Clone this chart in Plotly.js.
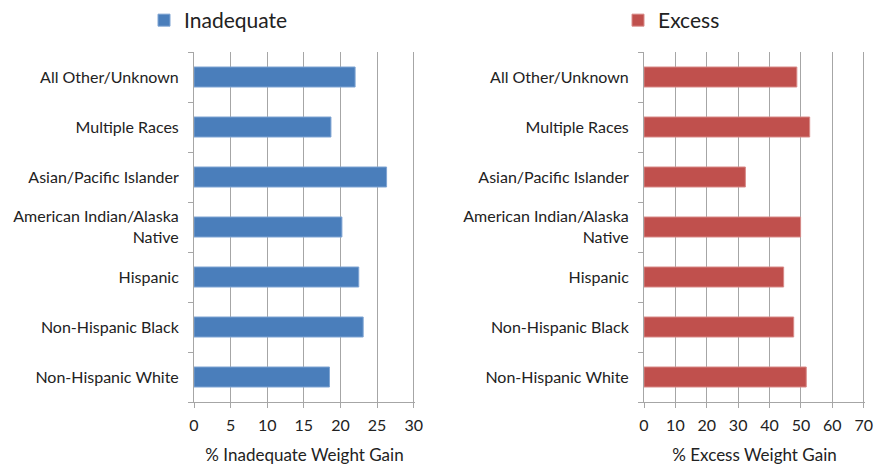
<!DOCTYPE html>
<html>
<head>
<meta charset="utf-8">
<script src="https://cdn.plot.ly/plotly-3.0.1.min.js"></script>
<style>html,body{margin:0;padding:0;background:#fff;}#chart{width:875px;height:465px;}</style>
</head>
<body>
<div id="chart"></div>
<script>
const categories = ["Non-Hispanic White", "Non-Hispanic Black", "Hispanic", "American Indian/Alaska<br>Native", "Asian/Pacific Islander", "Multiple Races", "All Other/Unknown"];
const inadequate = [18.5, 23.1, 22.5, 20.2, 26.3, 18.7, 22.0];
const excess = [51.7, 47.7, 44.5, 49.9, 32.3, 52.8, 48.7];
const inadequateTicks = [0, 5, 10, 15, 20, 25, 30];
const excessTicks = [0, 10, 20, 30, 40, 50, 60, 70];

const FONT = "Lato, 'Open Sans', sans-serif";
const gridCol = "#a6a6a6";
const W = 875, H = 465;

const traces = [
  {type: "bar", orientation: "h", y: categories, x: inadequate, name: "Inadequate",
   marker: {color: "#4a7ebb", line: {color: "#7fa4d3", width: 1}}, xaxis: "x", yaxis: "y", legend: "legend",
   hoverinfo: "x+y"},
  {type: "bar", orientation: "h", y: categories, x: excess, name: "Excess",
   marker: {color: "#c0504d", line: {color: "#d88a88", width: 1}}, xaxis: "x2", yaxis: "y2", legend: "legend2",
   hoverinfo: "x+y"}
];

function xax(domain, ticks, title, anchor) {
  const mx = ticks[ticks.length - 1];
  return {
    domain: domain, range: [0, mx * 1.006], tickmode: "array", tickvals: ticks,
    showgrid: true, gridcolor: gridCol, gridwidth: 1, zeroline: false,
    showline: true, linecolor: gridCol, linewidth: 1, ticks: "outside", ticklen: 5, tickcolor: gridCol,
    ticklabelstandoff: 4,
    tickfont: {family: FONT, size: 16, color: "#222"}, anchor: anchor, fixedrange: true,
    title: {text: title, font: {family: FONT, size: 17, color: "#222"}, standoff: 19}
  };
}
function yax(anchor) {
  return {
    type: "category", domain: [1 - 402 / H, 1 - 52 / H], anchor: anchor,
    showline: true, linecolor: gridCol, linewidth: 1, ticks: "outside", ticklen: 5, tickcolor: gridCol,
    tickson: "boundaries", showgrid: false, zeroline: false, ticklabelstandoff: 11,
    tickfont: {family: FONT, size: 16, color: "#222"}, fixedrange: true
  };
}

const layout = {
  width: W, height: H, margin: {l: 0, r: 0, t: 0, b: 0},
  paper_bgcolor: "#fff", plot_bgcolor: "#fff",
  bargap: 0.6, showlegend: true,
  xaxis: xax([194 / W, 415 / W], inadequateTicks, "% Inadequate Weight Gain", "y"),
  yaxis: yax("x"),
  xaxis2: xax([644 / W, 865 / W], excessTicks, "% Excess Weight Gain", "y2"),
  yaxis2: yax("x2"),
  legend: {x: 144 / W, y: 1, xanchor: "left", yanchor: "top", bgcolor: "rgba(0,0,0,0)",
    font: {family: FONT, size: 21, color: "#222"}, itemwidth: 30},
  legend2: {x: 618 / W, y: 1, xanchor: "left", yanchor: "top", bgcolor: "rgba(0,0,0,0)",
    font: {family: FONT, size: 21, color: "#222"}, itemwidth: 30}
};

Plotly.newPlot("chart", traces, layout, {displayModeBar: false, staticPlot: true});
</script>
</body>
</html>
